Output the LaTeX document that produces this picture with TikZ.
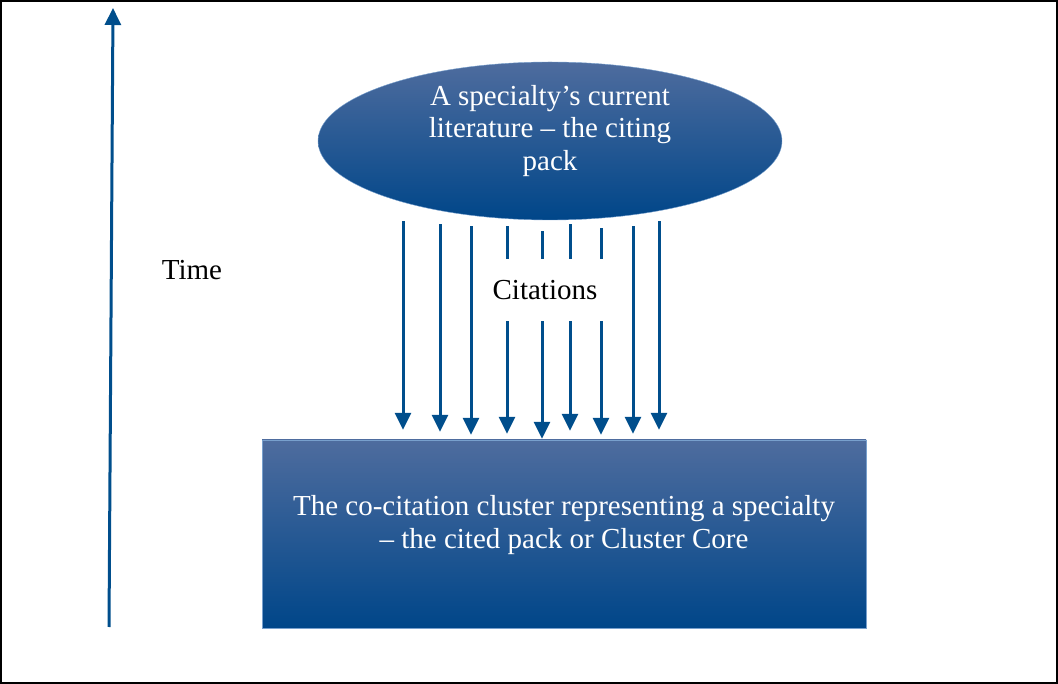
\documentclass[tikz,border=0pt]{standalone}
\usepackage{fontspec}
\setmainfont{Liberation Serif}
\usepackage{tikz}
\usetikzlibrary{shapes.geometric}
\usetikzlibrary{arrows.meta}

\definecolor{citeblue}{RGB}{0,78,140}
\definecolor{packtop}{RGB}{78,108,158}
\definecolor{packmid}{RGB}{20,82,145}
\definecolor{packbot}{RGB}{0,70,137}
\definecolor{packrim}{RGB}{120,160,205}

\begin{document}
\begin{tikzpicture}[
    x=1pt, y=-1pt,
    pack/.style={
        % The shape:
        ellipse,
        % The size:
        minimum width=464pt,
        minimum height=158pt,
        % The border
        draw=packrim,
        thin,
        % The filling
        top color=packtop,
        middle color=packmid,
        bottom color=packbot
    },
    core/.style={
        % The shape:
        rectangle,
        % The size:
        minimum width=604pt,
        minimum height=188pt,
        % The border
        draw=packrim,
        thin,
        % The filling
        top color=packtop,
        middle color=packmid,
        bottom color=packbot
    },
    words/.style={
        % Font
        font=\fontsize{29}{32.5}\selectfont,
        align=center,
        inner sep=0pt
    },
    cite/.style={
        draw=citeblue,
        line width=3pt,
        -{Triangle[length=17pt,width=16pt]}
    }]

    % frame and bounding box
    \draw[black, line width=1.3pt] (1,1) rectangle (1057,683);
    \useasboundingbox (0,0) rectangle (1058,684);

    % the two packs
    \node [pack] (citing) at (550,141) {};
    \node [words, text=white] (citingtxt) at (550,131)
        {A specialty’s current\\literature – the citing\\pack};
    \node [core] (cited) at (564,534) {};
    \node [words, text=white] (citedtxt) at (564,525)
        {The co-citation cluster representing a specialty\\– the cited pack or Cluster Core};

    % the citations
    \foreach \x/\a/\b in {403/1/10, 440/4/8, 471/6/5, 507/6/6, 542/11/1,
                          570/4/9, 601/8/5, 633/6/6, 659/1/10}
    {
        \draw [cite, shorten <=\a pt, shorten >=\b pt]
            (\x,0 |- citing.south) -- (\x,0 |- cited.north);
    }
    \node [words, fill=white, inner xsep=9pt, minimum height=62pt] (citations) at (545,290) {Citations};

    % time axis
    \coordinate (tbot) at (109,627);
    \coordinate (ttop) at (113,8);
    \draw [cite] (tbot) -- (ttop);
    \node [words] (time) at (192,270) {Time};
\end{tikzpicture}
\end{document}
